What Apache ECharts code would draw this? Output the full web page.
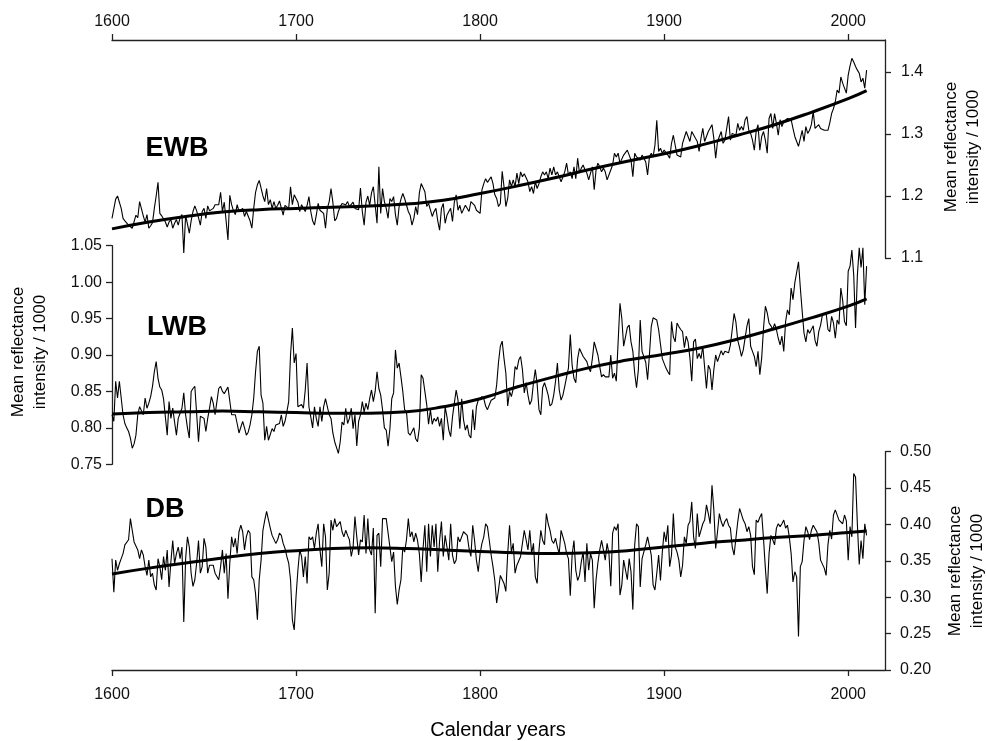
<!DOCTYPE html>
<html>
<head>
<meta charset="utf-8">
<title>EWB LWB DB</title>
<script src="https://cdn.jsdelivr.net/npm/echarts@6/dist/echarts.min.js"></script>
<style>
  * { margin: 0; padding: 0 }
  html, body { width: 100%; height: 100%; background: #fff; }
  #main { width: 986px; height: 741px; }
</style>
</head>
<body>
<div id="main"></div>
<script>
// annual values, 1600 .. 2010
var startYear = 1600;

var ewb = [
  1.164,1.163,1.195,1.200,1.198,1.180,1.164,1.160,1.162,1.153,
  1.156,1.148,1.150,1.169,1.165,1.191,1.188,1.168,1.158,1.170,
  1.148,1.152,1.157,1.180,1.200,1.222,1.172,1.168,1.166,1.158,
  1.150,1.158,1.162,1.148,1.156,1.162,1.153,1.165,1.170,1.108,
  1.169,1.172,1.140,1.160,1.175,1.184,1.176,1.165,1.153,1.175,
  1.180,1.164,1.184,1.176,1.175,1.180,1.186,1.183,1.186,1.206,
  1.175,1.190,1.160,1.129,1.201,1.186,1.176,1.170,1.186,1.175,
  1.178,1.180,1.167,1.175,1.172,1.160,1.148,1.180,1.206,1.218,
  1.225,1.222,1.200,1.191,1.212,1.186,1.194,1.180,1.191,1.180,
  1.185,1.192,1.191,1.169,1.185,1.188,1.180,1.215,1.186,1.202,
  1.204,1.190,1.175,1.186,1.183,1.175,1.185,1.199,1.175,1.160,
  1.153,1.169,1.188,1.177,1.175,1.172,1.148,1.180,1.191,1.212,
  1.190,1.160,1.164,1.175,1.183,1.188,1.190,1.186,1.191,1.183,
  1.186,1.190,1.180,1.177,1.178,1.213,1.175,1.153,1.190,1.200,
  1.185,1.205,1.215,1.185,1.156,1.247,1.172,1.212,1.191,1.180,
  1.164,1.196,1.191,1.199,1.170,1.153,1.183,1.195,1.204,1.196,
  1.199,1.175,1.169,1.153,1.164,1.183,1.170,1.205,1.220,1.218,
  1.207,1.183,1.188,1.186,1.167,1.175,1.180,1.160,1.145,1.180,
  1.188,1.156,1.169,1.175,1.180,1.159,1.190,1.202,1.177,1.185,
  1.172,1.169,1.185,1.188,1.175,1.191,1.194,1.185,1.177,1.180,
  1.172,1.210,1.220,1.228,1.222,1.225,1.231,1.220,1.202,1.196,
  1.183,1.188,1.240,1.215,1.183,1.196,1.226,1.215,1.226,1.215,
  1.237,1.220,1.239,1.231,1.236,1.239,1.223,1.207,1.215,1.204,
  1.223,1.212,1.220,1.231,1.239,1.234,1.239,1.228,1.245,1.234,
  1.247,1.234,1.239,1.242,1.223,1.220,1.239,1.253,1.234,1.239,
  1.228,1.247,1.228,1.261,1.237,1.245,1.250,1.242,1.237,1.226,
  1.237,1.247,1.210,1.242,1.253,1.247,1.239,1.245,1.239,1.226,
  1.226,1.242,1.250,1.269,1.263,1.269,1.253,1.250,1.266,1.269,
  1.274,1.266,1.258,1.231,1.269,1.263,1.263,1.258,1.266,1.261,
  1.255,1.234,1.263,1.269,1.263,1.282,1.322,1.272,1.277,1.269,
  1.274,1.272,1.266,1.261,1.285,1.298,1.296,1.266,1.269,1.263,
  1.285,1.288,1.304,1.296,1.288,1.304,1.306,1.293,1.288,1.272,
  1.293,1.309,1.288,1.296,1.304,1.306,1.315,1.293,1.261,1.288,
  1.290,1.304,1.285,1.290,1.309,1.328,1.290,1.301,1.301,1.298,
  1.317,1.306,1.312,1.306,1.323,1.328,1.306,1.301,1.290,1.274,
  1.304,1.315,1.274,1.296,1.304,1.290,1.269,1.325,1.333,1.309,
  1.333,1.317,1.298,1.323,1.312,1.320,1.320,1.325,1.328,1.323,
  1.309,1.296,1.288,1.280,1.293,1.306,1.288,1.312,1.301,1.306,
  1.315,1.336,1.309,1.309,1.315,1.309,1.309,1.306,1.304,1.306,
  1.318,1.333,1.341,1.352,1.371,1.366,1.392,1.382,1.374,1.366,
  1.395,1.410,1.422,1.416,1.409,1.403,1.398,1.384,1.390,1.374,1.403
];

var lwb = [
  0.818,0.809,0.864,0.841,0.864,0.863,0.818,0.806,0.800,0.795,
  0.786,0.772,0.778,0.790,0.818,0.829,0.831,0.818,0.841,0.827,
  0.834,0.843,0.857,0.877,0.891,0.868,0.856,0.852,0.840,0.838,
  0.790,0.836,0.813,0.827,0.808,0.790,0.813,0.820,0.827,0.848,
  0.818,0.800,0.786,0.850,0.854,0.857,0.857,0.781,0.816,0.815,
  0.813,0.795,0.813,0.827,0.843,0.834,0.818,0.836,0.854,0.857,
  0.850,0.847,0.845,0.856,0.857,0.818,0.816,0.818,0.806,0.793,
  0.793,0.809,0.800,0.790,0.794,0.804,0.818,0.841,0.877,0.905,
  0.912,0.845,0.834,0.783,0.802,0.783,0.781,0.799,0.795,0.804,
  0.802,0.806,0.818,0.802,0.809,0.822,0.836,0.900,0.937,0.889,
  0.902,0.829,0.829,0.832,0.827,0.852,0.889,0.829,0.815,0.800,
  0.829,0.813,0.802,0.829,0.809,0.829,0.840,0.841,0.818,0.813,
  0.793,0.781,0.779,0.765,0.781,0.808,0.804,0.827,0.806,0.813,
  0.827,0.799,0.818,0.775,0.809,0.818,0.836,0.822,0.834,0.825,
  0.840,0.852,0.836,0.850,0.877,0.854,0.845,0.825,0.800,0.797,
  0.775,0.799,0.840,0.848,0.907,0.882,0.889,0.870,0.850,0.825,
  0.822,0.793,0.790,0.788,0.800,0.785,0.781,0.800,0.873,0.868,
  0.870,0.832,0.805,0.825,0.805,0.813,0.809,0.815,0.802,0.813,
  0.783,0.829,0.815,0.797,0.788,0.815,0.834,0.852,0.838,0.799,
  0.840,0.811,0.797,0.804,0.790,0.786,0.825,0.797,0.829,0.838,
  0.838,0.843,0.840,0.830,0.825,0.825,0.838,0.838,0.841,0.859,
  0.890,0.912,0.919,0.895,0.875,0.830,0.850,0.843,0.854,0.884,
  0.880,0.893,0.898,0.880,0.848,0.862,0.845,0.832,0.838,0.862,
  0.880,0.860,0.825,0.818,0.855,0.862,0.854,0.845,0.830,0.833,
  0.845,0.864,0.889,0.852,0.838,0.845,0.857,0.870,0.882,0.928,
  0.886,0.868,0.862,0.895,0.909,0.909,0.898,0.900,0.891,0.882,
  0.877,0.895,0.918,0.916,0.900,0.884,0.870,0.873,0.870,0.868,
  0.870,0.900,0.868,0.875,0.864,0.918,0.971,0.950,0.912,0.925,
  0.938,0.941,0.918,0.905,0.875,0.855,0.880,0.948,0.905,0.903,
  0.890,0.866,0.900,0.939,0.951,0.953,0.948,0.935,0.915,0.895,
  0.896,0.882,0.877,0.873,0.946,0.925,0.918,0.944,0.939,0.935,
  0.932,0.910,0.926,0.918,0.896,0.864,0.918,0.922,0.895,0.902,
  0.895,0.912,0.912,0.854,0.886,0.880,0.852,0.880,0.900,0.891,
  0.891,0.906,0.900,0.905,0.907,0.903,0.914,0.935,0.957,0.945,
  0.920,0.910,0.898,0.907,0.909,0.940,0.950,0.912,0.905,0.898,
  0.884,0.905,0.873,0.896,0.937,0.967,0.958,0.944,0.940,0.935,
  0.943,0.935,0.923,0.914,0.926,0.905,0.946,0.962,0.955,0.992,
  0.976,0.999,1.001,1.028,0.992,0.960,0.930,0.918,0.935,0.930,
  0.935,0.940,0.920,0.912,0.932,0.941,0.955,0.953,0.958,0.935,
  0.932,0.953,0.944,0.923,0.948,0.942,0.992,0.975,0.946,0.940,
  1.015,1.022,1.044,1.010,0.937,1.010,1.047,1.020,1.047,0.969,1.022
];

var db = [
  0.353,0.307,0.351,0.337,0.346,0.353,0.360,0.372,0.370,0.379,
  0.408,0.392,0.376,0.378,0.365,0.353,0.365,0.358,0.342,0.330,
  0.351,0.328,0.333,0.317,0.310,0.353,0.342,0.324,0.356,0.337,
  0.365,0.314,0.349,0.378,0.346,0.360,0.369,0.353,0.369,0.266,
  0.353,0.383,0.369,0.333,0.315,0.324,0.347,0.378,0.333,0.342,
  0.381,0.369,0.333,0.344,0.342,0.344,0.333,0.335,0.324,0.342,
  0.365,0.333,0.360,0.298,0.347,0.383,0.369,0.381,0.360,0.390,
  0.399,0.390,0.365,0.383,0.392,0.388,0.328,0.324,0.305,0.269,
  0.324,0.351,0.392,0.406,0.418,0.420,0.395,0.385,0.383,0.374,
  0.379,0.388,0.385,0.374,0.367,0.356,0.347,0.324,0.269,0.255,
  0.301,0.337,0.365,0.356,0.328,0.356,0.319,0.383,0.379,0.383,
  0.367,0.388,0.401,0.365,0.342,0.401,0.383,0.310,0.333,0.406,
  0.392,0.408,0.397,0.397,0.404,0.390,0.383,0.392,0.385,0.379,
  0.356,0.369,0.411,0.383,0.358,0.379,0.376,0.413,0.360,0.408,
  0.365,0.358,0.395,0.278,0.385,0.388,0.342,0.408,0.406,0.408,
  0.406,0.369,0.349,0.362,0.315,0.290,0.310,0.324,0.369,0.362,
  0.379,0.408,0.383,0.390,0.376,0.388,0.378,0.360,0.321,0.367,
  0.399,0.335,0.401,0.356,0.399,0.369,0.401,0.335,0.378,0.404,
  0.356,0.385,0.369,0.351,0.401,0.358,0.346,0.351,0.383,0.376,
  0.378,0.390,0.388,0.385,0.367,0.356,0.399,0.378,0.351,0.335,
  0.360,0.374,0.383,0.401,0.397,0.378,0.358,0.342,0.323,0.292,
  0.310,0.330,0.332,0.319,0.308,0.360,0.399,0.362,0.374,0.333,
  0.344,0.342,0.356,0.374,0.392,0.379,0.365,0.392,0.360,0.374,
  0.328,0.319,0.365,0.392,0.378,0.372,0.415,0.401,0.392,0.378,
  0.374,0.381,0.369,0.360,0.392,0.394,0.374,0.360,0.353,0.302,
  0.358,0.378,0.337,0.323,0.330,0.349,0.362,0.321,0.374,0.337,
  0.360,0.351,0.285,0.324,0.347,0.365,0.378,0.365,0.351,0.374,
  0.360,0.315,0.388,0.397,0.392,0.401,0.303,0.317,0.351,0.353,
  0.324,0.353,0.335,0.283,0.372,0.401,0.397,0.314,0.353,0.351,
  0.372,0.383,0.383,0.358,0.317,0.310,0.333,0.358,0.323,0.362,
  0.390,0.376,0.399,0.342,0.358,0.415,0.369,0.362,0.351,0.328,
  0.344,0.383,0.374,0.399,0.404,0.431,0.383,0.367,0.415,0.383,
  0.385,0.401,0.406,0.427,0.415,0.401,0.454,0.420,0.367,0.390,
  0.415,0.404,0.397,0.404,0.408,0.399,0.395,0.369,0.358,0.381,
  0.404,0.422,0.420,0.406,0.401,0.390,0.397,0.385,0.342,0.331,
  0.406,0.403,0.410,0.415,0.380,0.340,0.305,0.360,0.385,0.379,
  0.372,0.395,0.401,0.397,0.401,0.406,0.395,0.399,0.383,0.360,
  0.321,0.335,0.328,0.246,0.342,0.349,0.378,0.397,0.390,0.379,
  0.392,0.399,0.400,0.390,0.375,0.351,0.353,0.340,0.330,0.372,
  0.392,0.380,0.413,0.420,0.418,0.406,0.408,0.401,0.413,0.405,
  0.351,0.397,0.383,0.470,0.465,0.400,0.345,0.378,0.353,0.401,0.385
];

// smoothed trend curves
var smoothYears = [1600,1620,1640,1660,1680,1700,1720,1740,1760,1780,1800,
                   1820,1840,1860,1880,1900,1920,1940,1960,1980,2000,2010];
var ewbSmooth = [1.147,1.158,1.167,1.174,1.178,1.180,1.182,1.184,1.187,1.193,1.204,
                 1.216,1.229,1.243,1.256,1.268,1.282,1.298,1.315,1.335,1.357,1.370];
var lwbSmooth = [0.819,0.821,0.822,0.823,0.822,0.821,0.820,0.820,0.822,0.829,0.840,
                 0.856,0.870,0.883,0.893,0.901,0.910,0.922,0.936,0.951,0.967,0.977];
var dbSmooth  = [0.332,0.340,0.347,0.354,0.360,0.364,0.367,0.368,0.367,0.365,0.363,
                 0.361,0.360,0.361,0.364,0.369,0.374,0.378,0.382,0.385,0.389,0.391];

var yearTicks = [1600,1700,1800,1900,2000];
var ewbTicks = [1.1,1.2,1.3,1.4];

var font = 'Liberation Sans, Arial, sans-serif';
var axisColor = '#222';

function annual(vals) {
  return vals.map(function (v, i) { return [startYear + i, v]; });
}
function trend(vals) {
  return vals.map(function (v, i) { return [smoothYears[i], v]; });
}

function xAxisOf(gi, pos, visible, margin) {
  return {
    type: 'value', gridIndex: gi, position: pos, show: visible,
    min: 1600, max: 2020, interval: 100,
    axisLine: { show: true, onZero: false, lineStyle: { color: axisColor, width: 1.3 } },
    axisTick: { show: true, length: 6, customValues: yearTicks, lineStyle: { color: axisColor, width: 1.3 } },
    axisLabel: { margin: margin, fontSize: 16, color: '#111', fontFamily: font, customValues: yearTicks,
      formatter: function (v) { return String(v); } },
    splitLine: { show: false }
  };
}

function yAxisOf(gi, pos, lo, hi, step, digits, ticks, margin) {
  var ax = {
    type: 'value', gridIndex: gi, position: pos, min: lo, max: hi, interval: step,
    axisLine: { show: true, onZero: false, lineStyle: { color: axisColor, width: 1.3 } },
    axisTick: { show: true, length: 6, lineStyle: { color: axisColor, width: 1.3 } },
    axisLabel: { margin: margin, fontSize: 16, color: '#111', fontFamily: font,
      formatter: function (v) { return v.toFixed(digits); } },
    splitLine: { show: false }
  };
  if (ticks) {
    ax.axisTick.customValues = ticks;
    ax.axisLabel.customValues = ticks;
  }
  return ax;
}

function thin(gi, vals) {
  return { type: 'line', xAxisIndex: gi, yAxisIndex: gi, data: annual(vals), showSymbol: false,
    symbol: 'none', lineStyle: { color: '#000', width: 1.1 }, animation: false, z: 2 };
}
function thick(gi, vals) {
  return { type: 'line', xAxisIndex: gi, yAxisIndex: gi, data: trend(vals), smooth: true,
    symbol: 'none', lineStyle: { color: '#000', width: 3 }, animation: false, z: 3 };
}

function label(text, x, y, size, bold, rot) {
  return { type: 'text', x: x, y: y, rotation: rot || 0, silent: true,
    style: { text: text, fill: '#000', align: 'center', verticalAlign: 'middle',
      textAlign: 'center', textVerticalAlign: 'middle', lineHeight: 22,
      font: (bold ? 'bold ' : '') + size + 'px ' + font } };
}

var chart = echarts.init(document.getElementById('main'));
chart.setOption({
  backgroundColor: '#fff',
  animation: false,
  grid: [
    { left: 112, right: 101, top: 40, height: 218, outerBoundsMode: 'none' },
    { left: 112, right: 101, top: 245.7, height: 218.6, outerBoundsMode: 'none' },
    { left: 112, right: 101, top: 451.7, height: 218.3, outerBoundsMode: 'none' }
  ],
  xAxis: [
    xAxisOf(0, 'top', true, 10),
    xAxisOf(1, 'bottom', false, 8),
    xAxisOf(2, 'bottom', true, 17)
  ],
  yAxis: [
    yAxisOf(0, 'right', 1.1, 1.4516, 0.1, 1, ewbTicks, 16),
    yAxisOf(1, 'left', 0.75, 1.05, 0.05, 2, null, 10),
    yAxisOf(2, 'right', 0.2, 0.5, 0.05, 2, null, 15)
  ],
  series: [
    thin(0, ewb), thick(0, ewbSmooth),
    thin(1, lwb), thick(1, lwbSmooth),
    thin(2, db), thick(2, dbSmooth)
  ],
  graphic: [
    label('EWB', 177, 149, 27, true),
    label('LWB', 177, 328, 27, true),
    label('DB', 165, 510, 27, true),
    label('Mean reflectance\nintensity / 1000', 962, 147, 17, false, Math.PI / 2),
    label('Mean reflectance\nintensity / 1000', 29, 352, 17, false, Math.PI / 2),
    label('Mean reflectance\nintensity / 1000', 966, 571, 17, false, Math.PI / 2),
    label('Calendar years', 498, 730, 20, false)
  ]
});
</script>
</body>
</html>
